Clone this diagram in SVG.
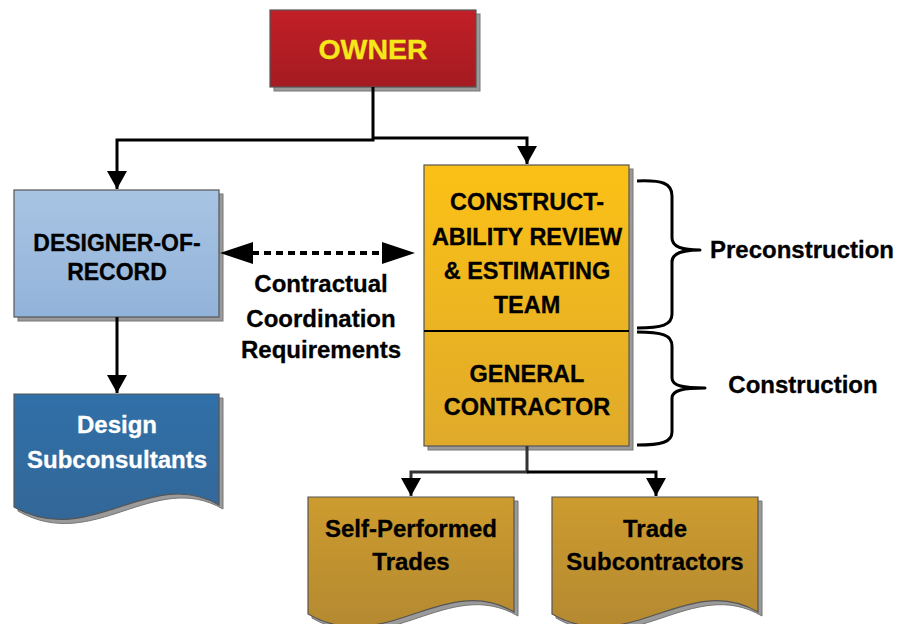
<svg xmlns="http://www.w3.org/2000/svg" width="898" height="624" viewBox="0 0 898 624">
<defs>
<linearGradient id="gRed" x1="0" y1="0" x2="0" y2="1"><stop offset="0" stop-color="#c21f27"/><stop offset="1" stop-color="#a41b21"/></linearGradient>
<linearGradient id="gBlue" x1="0" y1="0" x2="0" y2="1"><stop offset="0" stop-color="#a8c4e3"/><stop offset="1" stop-color="#92b3d9"/></linearGradient>
<linearGradient id="gDark" x1="0" y1="0" x2="0" y2="1"><stop offset="0" stop-color="#3070a8"/><stop offset="1" stop-color="#336798"/></linearGradient>
<linearGradient id="gOrange" x1="0" y1="0" x2="0" y2="1"><stop offset="0" stop-color="#fcc116"/><stop offset="1" stop-color="#dfaa2a"/></linearGradient>
<linearGradient id="gGold" x1="0" y1="0" x2="0" y2="1"><stop offset="0" stop-color="#cd9c2f"/><stop offset="1" stop-color="#b48930"/></linearGradient>
<marker id="ah" markerUnits="userSpaceOnUse" markerWidth="22" markerHeight="20" refX="18" refY="10" orient="auto" viewBox="0 0 22 20"><path d="M0,0 L18,10 L0,20 Z" fill="#000"/></marker>
</defs>
<style>
.t{font-family:"Liberation Sans",Arial,sans-serif;font-weight:bold;text-anchor:middle;fill:#000;stroke:#000;stroke-width:0.3}
.sh{fill:#9a9a9a;stroke:#777;stroke-width:1}
.bx{stroke:#555;stroke-width:1.2}
.conn{fill:none;stroke:#000;stroke-width:3}
.brace{fill:none;stroke:#000;stroke-width:3;stroke-linejoin:round}
</style>

<g id="owner">
<rect class="sh" x="274" y="14" width="206" height="77"/>
<rect class="bx" x="270" y="10" width="206" height="77" fill="url(#gRed)"/>
<text class="t" x="373" y="59" font-size="28.5" style="fill:#f6e71a;stroke:#f6e71a">OWNER</text>
</g>

<g id="designer">
<rect class="sh" x="18" y="194" width="205" height="127"/>
<rect class="bx" x="14" y="190" width="205" height="127" fill="url(#gBlue)"/>
<text class="t" x="117" y="251" font-size="23">DESIGNER-OF-</text>
<text class="t" x="117" y="280" font-size="23">RECORD</text>
</g>

<g id="subconsultants">
<path class="sh" d="M18,398 H223 V509 C154,469 94,554 18,511 Z"/>
<path class="bx" d="M14,394 H219 V505 C150,465 90,550 14,507 Z" fill="url(#gDark)"/>
<text class="t" x="117" y="433" font-size="24" style="fill:#fff;stroke:#fff">Design</text>
<text class="t" x="117" y="468" font-size="24" style="fill:#fff;stroke:#fff">Subconsultants</text>
</g>

<g id="gc">
<rect class="sh" x="428" y="169" width="205" height="281"/>
<rect class="bx" x="424" y="165" width="205" height="281" fill="url(#gOrange)"/>
<line x1="424" y1="331" x2="629" y2="331" stroke="#000" stroke-width="2"/>
<text class="t" x="527" y="210" font-size="23.5">CONSTRUCT-</text>
<text class="t" x="527" y="245" font-size="23.5">ABILITY REVIEW</text>
<text class="t" x="527" y="279" font-size="23.5">&amp; ESTIMATING</text>
<text class="t" x="527" y="313" font-size="23.5">TEAM</text>
<text class="t" x="527" y="382" font-size="23.5">GENERAL</text>
<text class="t" x="527" y="415" font-size="23.5">CONTRACTOR</text>
</g>

<g id="selfperformed">
<path class="sh" d="M312,501 H518 V616 C448,575 388,662 312,618 Z"/>
<path class="bx" d="M308,497 H514 V612 C444,571 384,658 308,614 Z" fill="url(#gGold)"/>
<text class="t" x="411" y="537" font-size="24">Self-Performed</text>
<text class="t" x="411" y="570" font-size="24">Trades</text>
</g>

<g id="tradesubs">
<path class="sh" d="M556,501 H762 V616 C692,575 632,662 556,618 Z"/>
<path class="bx" d="M552,497 H758 V612 C688,571 628,658 552,614 Z" fill="url(#gGold)"/>
<text class="t" x="655" y="537" font-size="24">Trade</text>
<text class="t" x="655" y="570" font-size="24">Subcontractors</text>
</g>

<g id="labels">
<text class="t" x="321" y="292" font-size="24">Contractual</text>
<text class="t" x="321" y="327" font-size="24">Coordination</text>
<text class="t" x="321" y="358" font-size="24">Requirements</text>
<text class="t" x="802" y="258" font-size="24">Preconstruction</text>
<text class="t" x="803" y="393" font-size="24">Construction</text>
</g>

<g id="connectors">
<path class="conn" d="M373,87 V140 H117 V189" marker-end="url(#ah)"/>
<path class="conn" d="M373,138 H527 V164" marker-end="url(#ah)"/>
<path class="conn" d="M117,317 V393" marker-end="url(#ah)"/>
<path class="conn" d="M527,446 V472 H411 V496" marker-end="url(#ah)" style="stroke:#333"/>
<path class="conn" d="M527,472 H656 V496" marker-end="url(#ah)"/>
<line x1="252" y1="253" x2="384" y2="253" stroke="#000" stroke-width="4" stroke-dasharray="7,5"/>
<path d="M253,242 L220,253 L253,264 Z" fill="#000"/>
<path d="M382,242 L415,253 L382,264 Z" fill="#000"/>
<path class="brace" d="M637,181 C662,180 672,183 672,196 V238 C672,247 682,250 700,250 C682,250 672,253 672,262 V314 C672,325 662,328 637,328"/>
<path class="brace" d="M637,332 C662,332 672,335 672,346 V378 C672,386 684,388 705,388 C684,388 672,390 672,398 V432 C672,442 662,445 637,445"/>
</g>
</svg>
